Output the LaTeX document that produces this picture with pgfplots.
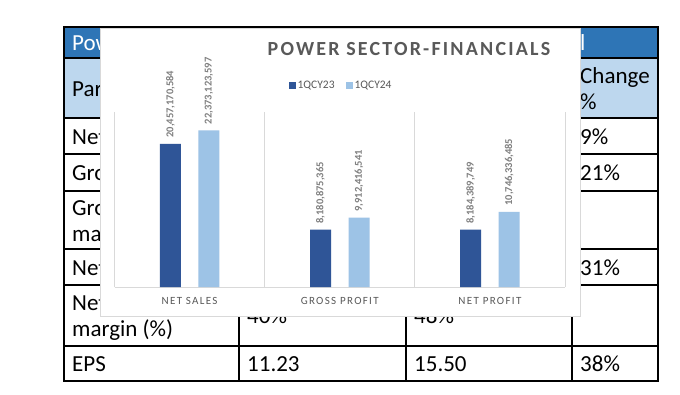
\documentclass[border=0pt]{standalone}
\usepackage{pgfplots}
\pgfplotsset{compat=1.18}
\usepackage{pgfplotstable}
\usepackage{fontspec}
\setmainfont{Carlito}
\definecolor{hdr}{HTML}{2E75B6}
\definecolor{sub}{HTML}{BDD7EE}
\definecolor{barA}{HTML}{2F5597}
\definecolor{barB}{HTML}{9DC3E6}
\definecolor{txtg}{HTML}{595959}
\definecolor{lblg}{HTML}{7F7F7F}
\definecolor{gridg}{HTML}{D9D9D9}

\pgfplotstableread{
x y lab
0 20457170584 20,457,170,584
1 8180875365 8,180,875,365
2 8184389749 8,184,389,749
}\qa
\pgfplotstableread{
x y lab
0 22373123597 22,373,123,597
1 9912416541 9,912,416,541
2 10746336485 10,746,336,485
}\qb

\newcommand\tabfont{\fontsize{23}{26}\selectfont}
\newcommand\cell[4][black]{\node[anchor=base west, inner sep=0pt, font=\tabfont, text=#1] at (#2pt,-#3pt) {#4};}

\begin{document}
\begin{tikzpicture}
\useasboundingbox (0pt,0pt) rectangle (680pt,-394pt);
% background table
\fill[hdr] (64pt,-27pt) rectangle (658pt,-58pt);
\fill[sub] (64pt,-58pt) rectangle (658pt,-118pt);
\foreach \y in {58,118,154,191,249,285,346} \draw[line width=1.1pt] (64pt,-\y pt) -- (658pt,-\y pt);
\foreach \x in {239,406,572} \draw[line width=1.1pt] (\x pt,-58pt) -- (\x pt,-381pt);
\draw[line width=1.1pt] (64pt,-27pt) rectangle (658pt,-381pt);
% header rows
\cell[white]{72}{50}{Power Sector}
\cell[white]{580}{50}{l}
\cell{72}{96}{Particulars}
\cell{247}{96}{1QCY23}
\cell{414}{96}{1QCY24}
\cell{580}{83}{Change}
\cell{580}{109}{\%}
% body rows
\cell{72}{144}{Net Sales}
\cell{247}{144}{20,457,170,584}
\cell{414}{144}{22,373,123,597}
\cell{580}{144}{9\%}
\cell{72}{180.5}{Gross Profit}
\cell{247}{180.5}{8,180,875,365}
\cell{414}{180.5}{9,912,416,541}
\cell{580}{180.5}{21\%}
\cell{72}{215}{Gross}
\cell{72}{241}{margin (\%)}
\cell{247}{228}{40\%}
\cell{414}{228}{44\%}
\cell{72}{275}{Net Profit}
\cell{247}{275}{8,184,389,749}
\cell{414}{275}{10,746,336,485}
\cell{580}{275}{31\%}
\cell{72}{310.5}{Net}
\cell{72}{336.5}{margin (\%)}
\cell{247}{323.5}{40\%}
\cell{414}{323.5}{48\%}
\cell{72}{371.5}{EPS}
\cell{247}{371.5}{11.23}
\cell{414}{371.5}{15.50}
\cell{580}{371.5}{38\%}
% chart area box
\filldraw[fill=white, draw=gridg, line width=1pt] (100.5pt,-28pt) rectangle (580pt,-316pt);
\begin{axis}[
  at={(114.5pt,-287pt)}, anchor=south west,
  scale only axis, width=450.5pt, height=175pt,
  xmin=-0.5, xmax=2.5, ymin=0, ymax=25e9,
  clip=false,
  ybar, bar width=21pt,
  axis y line=none,
  axis x line*=bottom,
  x axis line style={gridg, line width=1pt},
  xtick={0,1,2},
  xticklabels={NET SALES,GROSS PROFIT,NET PROFIT},
  xticklabel style={anchor=base, yshift=-17pt, text=txtg,
    font=\fontsize{11}{13}\selectfont\addfontfeatures{LetterSpace=12}},
  major tick length=0pt, minor tick length=0pt,
  minor xtick={-0.5,0.5,1.5,2.5},
  xminorgrids=true,
  minor x grid style={gridg, line width=1pt},
  ytick=\empty,
  title={POWER SECTOR-FINANCIALS},
  title style={at={(0.6537,1.2914)}, anchor=base, text=txtg,
    font=\bfseries\fontsize{20}{24}\selectfont\addfontfeatures{LetterSpace=11}},
  legend style={at={(0.503,1.149)}, anchor=center, draw=none, fill=none,
    font=\fontsize{11.5}{13}\selectfont, text=txtg,
    nodes={inner xsep=1.5pt, inner ysep=0pt},
    /tikz/every even column/.append style={column sep=10pt}},
  legend columns=2,
  legend image code/.code={\fill[#1] (0pt,-3.5pt) rectangle (7pt,3.5pt);},
  nodes near coords,
  point meta=explicit symbolic,
  every node near coord/.append style={rotate=90, anchor=west,
    inner xsep=6pt, inner ysep=0pt, text=lblg,
    font=\bfseries\fontsize{10.5}{12}\selectfont},
]
\addplot[fill=barA, draw=none, bar shift=-19.25pt] table[x=x, y=y, meta=lab] {\qa};
\addplot[fill=barB, draw=none, bar shift=19.25pt] table[x=x, y=y, meta=lab] {\qb};
\legend{1QCY23,1QCY24}
\end{axis}
\end{tikzpicture}
\end{document}
